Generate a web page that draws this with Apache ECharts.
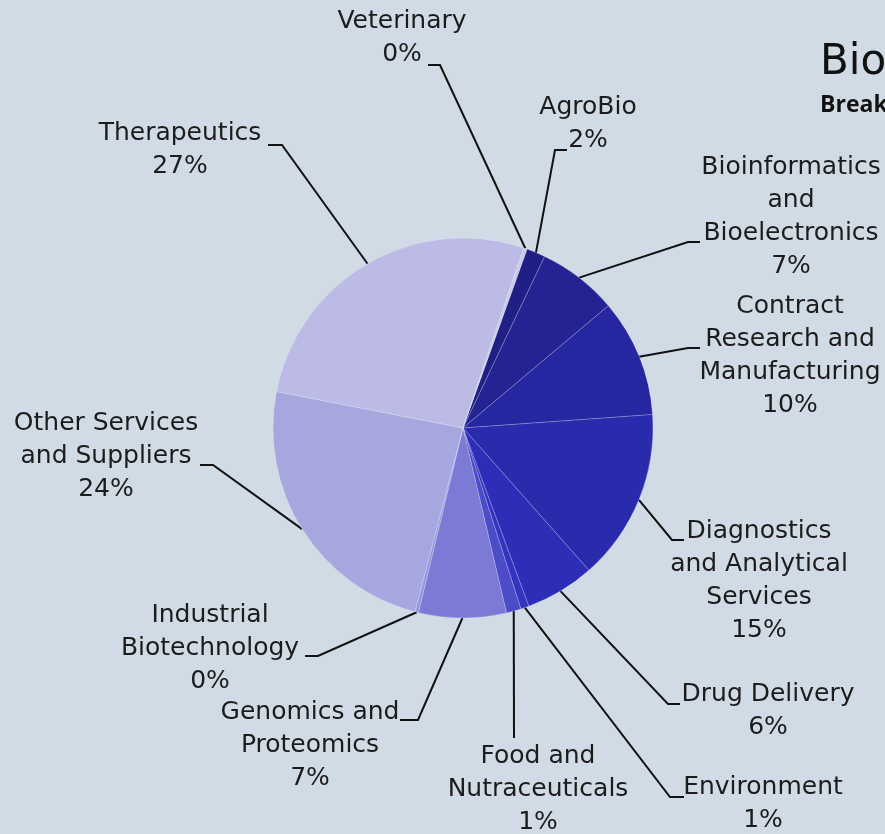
<!DOCTYPE html>
<html>
<head>
<meta charset="utf-8">
<script src="https://cdn.jsdelivr.net/npm/echarts@6/dist/echarts.min.js"></script>
<style>
html,body{margin:0;padding:0;background:#d0dbe5;}
#chart{width:885px;height:834px;}
</style>
</head>
<body>
<div id="chart"></div>
<script>
// Sector shares (percent of companies), clockwise from AgroBio
const categories = [
  'AgroBio',
  'Bioinformatics\nand\nBioelectronics',
  'Contract\nResearch and\nManufacturing',
  'Diagnostics\nand Analytical\nServices',
  'Drug Delivery',
  'Environment',
  'Food and\nNutraceuticals',
  'Genomics and\nProteomics',
  'Industrial\nBiotechnology',
  'Other Services\nand Suppliers',
  'Therapeutics',
  'Veterinary'
];
const shares = [1.6, 6.8, 10.0, 14.6, 5.9, 0.7, 1.25, 7.45, 0.3, 24.0, 27.1, 0.3];
const colors = ['#1f1f86', '#232393', '#2626a0', '#2a2aad', '#2d2db8', '#3434c0',
                '#4c4cc9', '#7b7bd6', '#9696dc', '#a7a7e0', '#bbbbe6', '#c9c9ee'];

// Label layout config: text centre (tx,ty), connector elbow (ex,ey), connector end x (hx)
const labelSpots = [
  {tx: 588, ty: 124, ex: 555, ey: 150, hx: 567},
  {tx: 791, ty: 217, ex: 688, ey: 242, hx: 700},
  {tx: 790, ty: 356, ex: 688, ey: 348, hx: 700},
  {tx: 759, ty: 581, ex: 672, ey: 540, hx: 684},
  {tx: 768, ty: 711, ex: 668, ey: 704, hx: 680},
  {tx: 763, ty: 804, ex: 670, ey: 797, hx: 684},
  {tx: 538, ty: 789, ex: 514, ey: 738, hx: 514},
  {tx: 310, ty: 745, ex: 418, ey: 720, hx: 400},
  {tx: 210, ty: 648, ex: 318, ey: 656, hx: 305},
  {tx: 106, ty: 456, ex: 213, ey: 465, hx: 200},
  {tx: 180, ty: 150, ex: 282, ey: 145, hx: 268},
  {tx: 402, ty: 38,  ex: 440, ey: 65,  hx: 428}
];

const chart = echarts.init(document.getElementById('chart'), null, {renderer: 'canvas'});
chart.setOption({
  backgroundColor: '#d0dbe5',
  animation: false,
  title: {
    text: 'Biotechnology Companies',
    subtext: 'Breakdown by Sector',
    left: 815,
    top: 37,
    itemGap: 10,
    textStyle: {fontFamily: 'DejaVu Sans', fontSize: 42, fontWeight: 'normal', color: '#111'},
    subtextStyle: {fontFamily: 'Open Sans', fontSize: 23, fontWeight: 'bold', color: '#111'}
  },
  series: [{
    type: 'pie',
    center: [463, 428],
    radius: [0, 190],
    startAngle: 70.3,
    clockwise: true,
    avoidLabelOverlap: false,
    data: categories.map((c, i) => ({name: c, value: shares[i], itemStyle: {color: colors[i]}})),
    itemStyle: {borderColor: 'rgba(255,255,255,0.35)', borderWidth: 0.6},
    label: {
      show: true,
      formatter: p => p.name + '\n' + Math.round(p.percent) + '%',
      fontFamily: 'DejaVu Sans',
      fontSize: 25,
      lineHeight: 33,
      color: '#1c1c1c'
    },
    labelLine: {show: true, length: 20, length2: 10, lineStyle: {color: '#111', width: 2}},
    labelLayout: function (params) {
      const s = labelSpots[params.dataIndex];
      const p0 = params.labelLinePoints ? params.labelLinePoints[0] : [s.ex, s.ey];
      return {
        x: s.tx,
        y: s.ty,
        align: 'center',
        verticalAlign: 'middle',
        labelLinePoints: [p0, [s.ex, s.ey], [s.hx, s.ey]]
      };
    },
    emphasis: {disabled: true}
  }]
});
</script>
</body>
</html>
